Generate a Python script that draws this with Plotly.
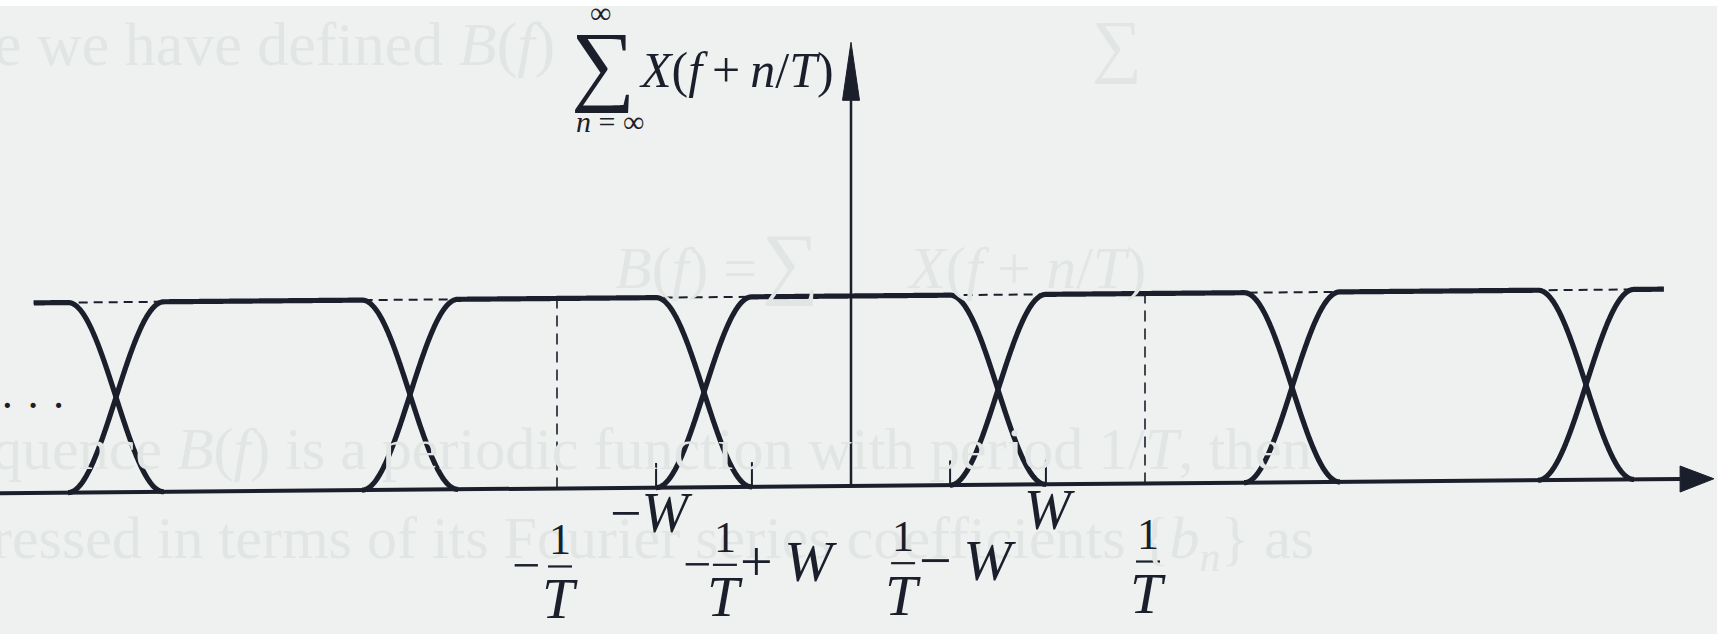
import numpy as np
import plotly.graph_objects as go

# ---------------------------------------------------------------------------
# Spectrum parameters (frequency measured in units of 1/T)
# ---------------------------------------------------------------------------
inv_T = 1.0                          # 1/T
W = 0.663                            # band edge of X(f)
level = 1.0                          # flat-top height of X(f)
replica_shifts = [-3, -2, -1, 0, 1, 2, 3]   # centres n/T of the copies X(f + n/T)
f_extent = [-2.78, 2.765]            # span over which the copies are drawn

# marked frequencies on the f axis
tick_vals = [-inv_T + W, inv_T - W, -W, W]
period_marks = [-inv_T, inv_T]

# ---------------------------------------------------------------------------
# Drawing geometry
# ---------------------------------------------------------------------------
FIG_W, FIG_H = 1717, 634
PX_X = 294.0          # pixels per 1/T
PX_Y = 190.0          # pixels per unit height
ORIGIN = (851.0, 486.0)
SLANT = 0.013         # the whole drawing leans up slightly to the right

X_RANGE = [-ORIGIN[0] / PX_X, (FIG_W - ORIGIN[0]) / PX_X]
Y_RANGE = [-(FIG_H - ORIGIN[1]) / PX_Y, ORIGIN[1] / PX_Y]

INK = "#1b1f2c"
BG = "#eef1ef"
GHOST = "#e1e5e3"     # print showing through from the facing page
SERIF = "Liberation Serif"


def lean(f, y):
    return np.asarray(y, dtype=float) + SLANT * np.asarray(f, dtype=float)


def X_of_f(f):
    """Raised-cosine shaped spectrum, flat to 1/T - W, zero beyond W."""
    a, b = inv_T - W, W
    af = np.abs(f)
    out = np.where(af <= a, level, 0.0)
    band = (af > a) & (af < b)
    out = np.where(band, level * 0.5 * (1 + np.cos(np.pi * (af - a) / (b - a))), out)
    return out


fig = go.Figure()


def paper_text(text, px, py, size, color=INK, xanchor="center"):
    fig.add_annotation(x=px / FIG_W, y=1 - py / FIG_H, xref="paper", yref="paper",
                       text=text, showarrow=False, xanchor=xanchor, yanchor="middle",
                       font=dict(family=SERIF, size=size, color=color))


# faint show-through text behind the drawing
paper_text("e we have defined <i>B</i>(<i>f</i>)", -8, 44, 62, GHOST, "left")
paper_text("\u2211", 1117, 46, 70, GHOST)
paper_text("<i>B</i>(<i>f</i>) = ", 613, 268, 60, GHOST, "left")
paper_text("\u2211", 790, 262, 80, GHOST)
paper_text("<i>X</i>(<i>f</i> + <i>n</i>/<i>T</i>)", 905, 268, 60, GHOST, "left")
paper_text("quence <i>B</i>(<i>f</i>) is a periodic function with period 1/<i>T</i>, then",
           -10, 449, 60, GHOST, "left")
paper_text("ressed in terms of its Fourier series coefficients {<i>b<sub>n</sub></i>} as",
           -10, 542, 60, GHOST, "left")

# dashed reference level
fx = np.array(f_extent)
fig.add_trace(go.Scatter(x=fx, y=lean(fx, [level, level]), mode="lines",
                         line=dict(color=INK, width=2, dash="9px,6px"),
                         hoverinfo="skip", showlegend=False))

# dashed verticals at +-1/T
for m in period_marks:
    fig.add_trace(go.Scatter(x=[m, m], y=lean([m, m], [0, level]), mode="lines",
                             line=dict(color=INK, width=1.6, dash="11px,7px"),
                             hoverinfo="skip", showlegend=False))

# short solid ticks at the band edges
for t in tick_vals:
    fig.add_trace(go.Scatter(x=[t, t], y=lean([t, t], [0, 0.13]), mode="lines",
                             line=dict(color=INK, width=2),
                             hoverinfo="skip", showlegend=False))

# the shifted copies X(f + n/T)
for n in replica_shifts:
    lo = max(n * inv_T - W, f_extent[0])
    hi = min(n * inv_T + W, f_extent[1])
    f = np.linspace(lo, hi, 600)
    fig.add_trace(go.Scatter(x=f, y=lean(f, X_of_f(f - n * inv_T)), mode="lines",
                             line=dict(color=INK, width=5.2, simplify=False),
                             hoverinfo="skip", showlegend=False))

# f axis with arrowhead
x_end = 2.82
x_tip = 2.935
fig.add_trace(go.Scatter(x=[X_RANGE[0], x_end], y=lean([X_RANGE[0], x_end], [0, 0]),
                         mode="lines", line=dict(color=INK, width=4),
                         hoverinfo="skip", showlegend=False))
hw = 13 / PX_Y
yb = float(lean(x_end, 0))
yt = float(lean(x_tip, 0))
fig.add_shape(type="path", xref="x", yref="y",
              path=f"M {x_end},{yb - hw} L {x_tip},{yt} L {x_end},{yb + hw} Z",
              fillcolor=INK, line=dict(color=INK, width=1))

# vertical axis with arrowhead
y_end = 2.03
y_tip = 2.335
fig.add_trace(go.Scatter(x=[0, 0], y=[0, y_end], mode="lines",
                         line=dict(color=INK, width=2.5),
                         hoverinfo="skip", showlegend=False))
vw = 8.5 / PX_X
fig.add_shape(type="path", xref="x", yref="y",
              path=f"M {-vw},{y_end} L 0,{y_tip} L {vw},{y_end} Z",
              fillcolor=INK, line=dict(color=INK, width=1))


# ---------------------------------------------------------------------------
# Axis labels
# ---------------------------------------------------------------------------
def put(text, f, dx, dy, size, xanchor="center"):
    """Text placed dx, dy pixels (dy downward) from the axis point at f."""
    fig.add_annotation(x=f, y=float(lean(f, 0)), xref="x", yref="y",
                       xshift=dx, yshift=-dy, text=text, showarrow=False,
                       xanchor=xanchor, yanchor="middle",
                       font=dict(family=SERIF, size=size, color=INK))


def bar(f, dx, dy, width):
    y0 = float(lean(f, 0))
    fig.add_shape(type="line", xref="x", yref="y",
                  xsizemode="pixel", ysizemode="pixel",
                  xanchor=f, yanchor=y0,
                  x0=dx - width / 2, x1=dx + width / 2, y0=-dy, y1=-dy,
                  line=dict(color=INK, width=2.2))


def fraction(f, dx):
    put("1", f, dx, 51, 44)
    bar(f, dx, 78, 24)
    put("<i>T</i>", f, dx, 110, 58)


# -1/T
put("\u2212", -inv_T, -31, 77, 50)
fraction(-inv_T, 3)
# -W
put("\u2212<i>W</i>", -W, -5, 25, 56)
# -1/T + W
put("\u2212", -inv_T + W, -55, 77, 50)
fraction(-inv_T + W, -27)
put("+\u2009<i>W</i>", -inv_T + W, 37, 75, 58)
# 1/T - W
fraction(inv_T - W, -47)
put("\u2212\u2009<i>W</i>", inv_T - W, 17, 75, 58)
# W
put("<i>W</i>", W, 4, 26, 56)
# 1/T
fraction(inv_T, 3)

# vertical-axis label: sum over n of X(f + n/T)
paper_text("\u221e", 600, 13, 30)
paper_text("\u2211", 603, 64, 90)
paper_text("<i>n</i> = \u221e", 610, 121, 30)
paper_text("<i>X</i>(<i>f</i>\u2009+\u2009<i>n</i>/<i>T</i>)", 637, 70, 50, INK, "left")

# ellipsis on the left
paper_text("\u00b7 \u00b7 \u00b7", 33, 405, 44)

fig.add_shape(type="rect", xref="paper", yref="paper", x0=0, x1=1,
              y0=1 - 6 / FIG_H, y1=1, fillcolor="white", line=dict(width=0),
              layer="below")

fig.update_layout(
    width=FIG_W, height=FIG_H, autosize=False,
    margin=dict(l=0, r=0, t=0, b=0, pad=0),
    paper_bgcolor=BG, plot_bgcolor=BG,
    xaxis=dict(range=X_RANGE, visible=False, fixedrange=True),
    yaxis=dict(range=Y_RANGE, visible=False, fixedrange=True),
    showlegend=False,
)

fig.write_html("out.html", include_plotlyjs=True, config={"displayModeBar": False})
